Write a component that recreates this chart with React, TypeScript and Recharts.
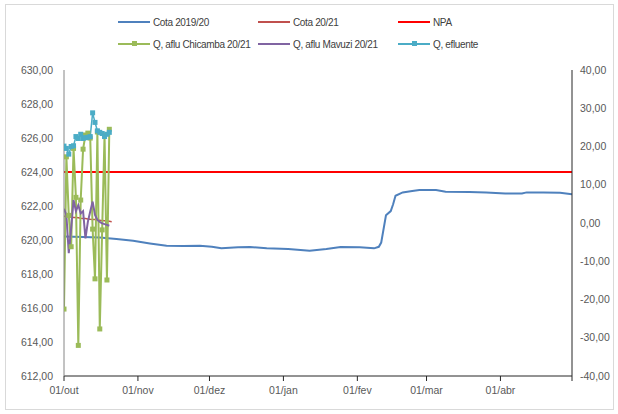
import { ComposedChart, Line, XAxis, YAxis } from 'recharts'

// days counted from 01/out
const tickDays = [0, 31, 61, 92, 123, 152, 183, 213]
const tickLabels = ['01/out', '01/nov', '01/dez', '01/jan', '01/fev', '01/mar', '01/abr', '']

const cotaDays = [0, 8, 15, 22, 29, 36, 43, 50, 57, 62, 66, 73, 78, 85, 94, 103, 110, 116, 124, 130, 132, 133, 135, 137, 138, 139, 142, 146, 149, 156, 160, 170, 177, 185, 192, 194, 201, 208, 213]
const cota1920 = [620.2, 620.18, 620.14, 620.06, 619.96, 619.8, 619.66, 619.65, 619.66, 619.6, 619.51, 619.57, 619.59, 619.51, 619.47, 619.37, 619.47, 619.59, 619.57, 619.51, 619.6, 619.85, 621.45, 621.7, 622.1, 622.6, 622.8, 622.88, 622.94, 622.94, 622.84, 622.82, 622.8, 622.73, 622.73, 622.8, 622.79, 622.78, 622.69]

const cota2021 = [621.4, 621.38, 621.37, 621.36, 621.33, 621.32, 621.31, 621.28, 621.27, 621.26, 621.24, 621.22, 621.21, 621.2, 621.17, 621.16, 621.14, 621.13, 621.12, 621.1, 621.08]
const npaDays = [0, 213]
const npa = [624, 624]

const qChicamba = [-22.5, 17.3, 2.0, -6.2, 19.5, 6.7, -32.0, 6.0, 19.3, 23.0, 23.5, 22.2, -1.6, -14.6, 23.8, -27.7, -1.8, 23.0, -14.9, 24.5]
const qMavuzi = [3.7, 2.1, -7.9, -1.4, 6.0, 3.1, 4.7, 2.5, 3.1, -4.0, 0.3, 3.0, 5.6, 2.1, 0.8, 0.3, -0.1, -0.3, -0.5, -0.7]
const qEfluente = [20.1, 19.5, 18.0, 20.0, 20.2, 22.6, 22.1, 23.2, 22.1, 22.3, 22.4, 22.6, 28.8, 26.3, 24.1, 23.7, 23.4, 22.6, 23.2, 23.7]

const leftTicks = [612, 614, 616, 618, 620, 622, 624, 626, 628, 630]
const rightTicks = [-40, -30, -20, -10, 0, 10, 20, 30, 40]

const C = {
  cota1920: '#4F81BD',
  cota2021: '#C0504D',
  npa: '#FF0000',
  chicamba: '#9BBB59',
  mavuzi: '#8064A2',
  efluente: '#4BACC6',
}

// merge everything into one table keyed by day
const allDays = Array.from(new Set([...cotaDays, ...npaDays, ...cota2021.map((_, i) => i)])).sort((a, b) => a - b)
const rows = allDays.map((day) => {
  const r: any = { day }
  const ci = cotaDays.indexOf(day)
  if (ci >= 0) r.cota1920 = cota1920[ci]
  const ni = npaDays.indexOf(day)
  if (ni >= 0) r.npa = npa[ni]
  if (day < cota2021.length) r.cota2021 = cota2021[day]
  if (day < qChicamba.length) r.chicamba = qChicamba[day]
  if (day < qMavuzi.length) r.mavuzi = qMavuzi[day]
  if (day < qEfluente.length) r.efluente = qEfluente[day]
  return r
})

const fmt = (v: number) => v.toFixed(2).replace('.', ',')

const square = (color: string) => (p: any) => {
  if (p.cy == null || p.value == null) return <g key={p.index} />
  return <rect key={p.index} x={p.cx - 2.5} y={p.cy - 2.5} width={5} height={5} fill={color} />
}

const FONT = "'Liberation Sans', Arial, sans-serif"
const tickStyle = { fill: '#595959', fontSize: 10.5, fontFamily: FONT }

const legend = [
  { name: 'Cota 2019/20', color: C.cota1920, x: 118, y: 22, mark: false },
  { name: 'Cota 20/21', color: C.cota2021, x: 258, y: 22, mark: false },
  { name: 'NPA', color: C.npa, x: 398, y: 22, mark: false },
  { name: 'Q, aflu Chicamba 20/21', color: C.chicamba, x: 118, y: 44, mark: true },
  { name: 'Q, aflu Mavuzi 20/21', color: C.mavuzi, x: 258, y: 44, mark: false },
  { name: 'Q, efluente', color: C.efluente, x: 398, y: 44, mark: true },
]

export default function App() {
  return (
    <div style={{ position: 'fixed', left: 0, top: 0, width: 618, height: 414, background: '#fff', fontFamily: FONT }}>
      <div style={{ position: 'absolute', left: 5, top: 4, width: 607, height: 404, border: '1px solid #d9d9d9' }} />
      {legend.map((l) => (
        <div key={l.name} style={{ position: 'absolute', left: l.x, top: l.y - 7, height: 14, display: 'flex', alignItems: 'center', fontSize: 10, letterSpacing: -0.35, color: '#404040', whiteSpace: 'nowrap' }}>
          <div style={{ position: 'relative', width: 32, height: 2, background: l.color, marginRight: 3 }}>
            {l.mark && <div style={{ position: 'absolute', left: 13.5, top: -2, width: 5, height: 5, background: l.color }} />}
          </div>
          <span>{l.name}</span>
        </div>
      ))}
      <ComposedChart width={618} height={414} data={rows} margin={{ top: 70, right: 6, left: 0, bottom: 8 }} style={{ position: 'absolute', left: 0, top: 0 }}>
        <XAxis
          dataKey="day" type="number" domain={[0, 213]} ticks={tickDays}
          tickFormatter={(v) => tickLabels[tickDays.indexOf(v)] ?? ''}
          height={30} tickSize={5} tickMargin={6}
          axisLine={{ stroke: '#262626' }} tickLine={{ stroke: '#262626' }}
          tick={tickStyle}
          allowDataOverflow
        />
        <YAxis
          yAxisId="left" domain={[612, 630]} ticks={leftTicks} tickFormatter={fmt}
          width={64} tickSize={0} tickMargin={11}
          axisLine={{ stroke: '#868686' }} tickLine={false}
          tick={tickStyle}
          allowDataOverflow
        />
        <YAxis
          yAxisId="right" orientation="right" domain={[-40, 40]} ticks={rightTicks} tickFormatter={fmt}
          width={40} tickSize={0} tickMargin={8}
          axisLine={{ stroke: '#262626' }} tickLine={false}
          tick={tickStyle}
          allowDataOverflow
        />
        <Line yAxisId="left" dataKey="cota1920" stroke={C.cota1920} strokeWidth={2} dot={false} connectNulls isAnimationActive={false} />
        <Line yAxisId="left" dataKey="cota2021" stroke={C.cota2021} strokeWidth={1.5} dot={false} connectNulls isAnimationActive={false} />
        <Line yAxisId="left" dataKey="npa" stroke={C.npa} strokeWidth={2} dot={false} connectNulls isAnimationActive={false} />
        <Line yAxisId="right" dataKey="chicamba" stroke={C.chicamba} strokeWidth={2} dot={square(C.chicamba)} isAnimationActive={false} />
        <Line yAxisId="right" dataKey="mavuzi" stroke={C.mavuzi} strokeWidth={2} dot={false} isAnimationActive={false} />
        <Line yAxisId="right" dataKey="efluente" stroke={C.efluente} strokeWidth={1.5} dot={square(C.efluente)} isAnimationActive={false} />
      </ComposedChart>
    </div>
  )
}
